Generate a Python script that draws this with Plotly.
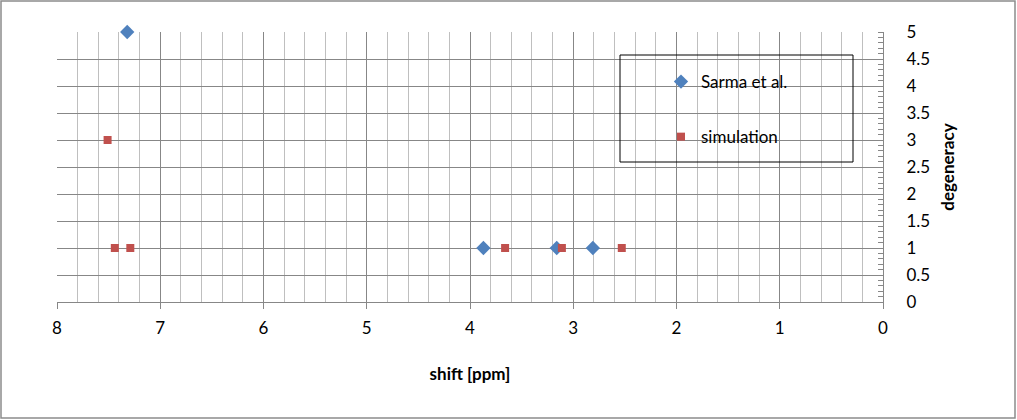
import plotly.graph_objects as go

# Data
sarma_shift = [7.32, 3.87, 3.16, 2.81]
sarma_degeneracy = [5, 1, 1, 1]

sim_shift = [7.51, 7.44, 7.29, 3.66, 3.11, 2.53]
sim_degeneracy = [3, 1, 1, 1, 1, 1]

x_ticks = [8, 7, 6, 5, 4, 3, 2, 1, 0]
y_ticks = [0, 0.5, 1, 1.5, 2, 2.5, 3, 3.5, 4, 4.5, 5]

font_name = "Lato"

fig = go.Figure()

fig.add_trace(go.Scatter(
    x=sarma_shift, y=sarma_degeneracy, mode="markers", name="Sarma et al.",
    marker=dict(symbol="diamond", size=11, color="#4F81BD"),
    legendgroup="a", cliponaxis=False,
))
fig.add_trace(go.Scatter(
    x=sim_shift, y=sim_degeneracy, mode="markers", name="simulation",
    marker=dict(symbol="square", size=8, color="#C0504D"),
    legendgroup="b", cliponaxis=False,
))

# outer chart border and legend box
fig.add_shape(type="rect", xref="paper", yref="paper",
              x0=-56 / 826, x1=958 / 826, y0=-116 / 270, y1=301 / 270,
              line=dict(color="#8C8C8C", width=1.5))
fig.add_shape(type="rect", xref="paper", yref="paper",
              x0=563 / 826, x1=796 / 826, y0=140 / 270, y1=247 / 270,
              line=dict(color="black", width=1))

fig.update_layout(
    width=1017, height=420,
    margin=dict(l=57, r=134, t=32, b=118),
    paper_bgcolor="white", plot_bgcolor="white",
    font=dict(family=font_name, size=17, color="black"),
    showlegend=True,
    legend=dict(x=604 / 826, y=238 / 270, xanchor="left", yanchor="top",
                bgcolor="rgba(0,0,0,0)", borderwidth=0,
                tracegroupgap=30, font=dict(size=17), itemwidth=30),
    xaxis=dict(
        range=[8, 0], tickvals=x_ticks, ticks="outside", ticklen=6,
        tickcolor="#878787", showline=True, linecolor="#878787", linewidth=1,
        showgrid=True, gridcolor="#878787", gridwidth=1,
        minor=dict(dtick=0.2, showgrid=True, gridcolor="#BFBFBF", ticks=""),
        zeroline=False, mirror=False, ticklabelstandoff=5,
        title=dict(text="<b>shift [ppm]</b>", font=dict(size=17), standoff=30),
    ),
    yaxis=dict(
        range=[0, 5], side="right", tickvals=y_ticks, ticks="",
        showline=True, linecolor="#878787", linewidth=1,
        showgrid=True, gridcolor="#878787", gridwidth=1,
        minor=dict(dtick=0.1, ticks="inside", ticklen=5, tickcolor="#878787",
                   showgrid=False),
        zeroline=False, ticklabelstandoff=19,
        title=dict(text="<b>degeneracy</b>", font=dict(size=17), standoff=12),
    ),
)

# drop the page margin so the figure fills the window edge to edge
fig.write_html("out.html", config={"displayModeBar": False},
               post_script="document.body.style.margin='0';")
